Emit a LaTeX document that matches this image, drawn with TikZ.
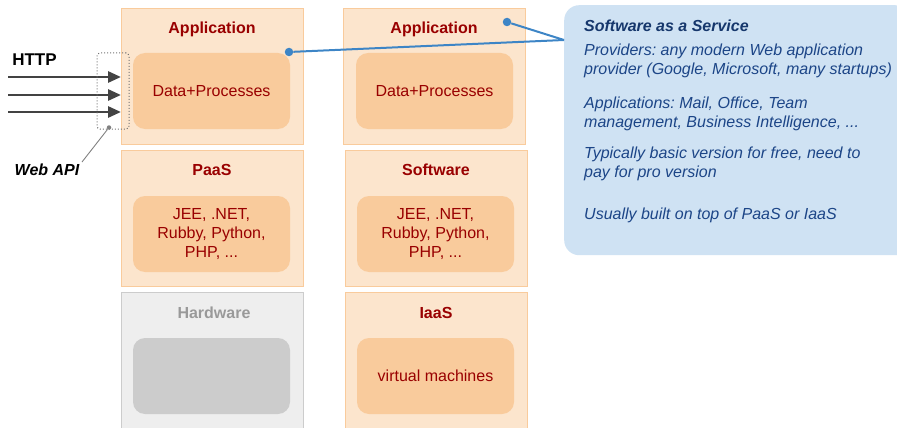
\documentclass[tikz,border=0pt]{standalone}
\usepackage{fontspec}
\setmainfont{Liberation Sans}
\usetikzlibrary{arrows.meta}
\frenchspacing
\definecolor{boxfill}{HTML}{FCE5CD}
\definecolor{boxline}{HTML}{F9CB9C}
\definecolor{innerfill}{HTML}{F9CB9C}
\definecolor{darkred}{HTML}{990000}
\definecolor{hwfill}{HTML}{EEEEEE}
\definecolor{hwline}{HTML}{CCCCCC}
\definecolor{hwtext}{HTML}{999999}
\definecolor{notefill}{HTML}{CFE2F3}
\definecolor{notetext}{HTML}{1C4587}
\definecolor{linkblue}{HTML}{3D85C6}
\definecolor{arrowgray}{HTML}{434343}
\tikzset{
  layerbox/.style={draw=boxline, fill=boxfill, line width=0.8pt, minimum width=182pt, minimum height=136pt, inner sep=0pt},
  hwbox/.style={layerbox, draw=hwline, fill=hwfill, minimum height=138pt},
  innerbox/.style={fill=innerfill, rounded corners=12pt, minimum width=157pt, minimum height=76pt, inner sep=0pt,
    text=darkred, align=center, font=\fontsize{16}{19}\selectfont},
  hwinner/.style={innerbox, fill=hwline},
  boxtitle/.style={anchor=base, text=darkred, font=\fontsize{16}{19}\selectfont\bfseries, inner sep=0pt},
  notetextstyle/.style={anchor=base west, text=notetext, font=\fontsize{16}{19}\selectfont\itshape, inner sep=0pt},
  linkdot/.style={circle, fill=linkblue, minimum size=8.5pt, inner sep=0pt},
  link/.style={draw=linkblue, line width=2pt},
  httparrow/.style={draw=arrowgray, line width=2.8pt, -{Triangle[length=13pt,width=11pt]}},
}
\begin{document}
\begin{tikzpicture}[x=1pt,y=-1pt]
\useasboundingbox (0,0) rectangle (897,428);

% left stack: application on top of a PaaS on top of hardware
\node[layerbox] (app1) at (212,76) {};
\node[layerbox] (paas) at (212,218) {};
\node[hwbox]    (hw)   at (212,361) {};
\node[innerbox] (dp1)  at (211.5,91) {Data+Processes};
\node[innerbox] (lang1) at (211.5,234) {JEE, .NET,\\Rubby, Python,\\PHP, ...};
\node[hwinner]  (hwin) at (211.5,376) {};
\node[boxtitle] (t-app1) at (212,33.5) {Application};
\node[boxtitle] (t-paas) at (212,175.5) {PaaS};
\node[boxtitle, text=hwtext] (t-hw) at (214,318.5) {Hardware};

% right stack: application on top of software on top of an IaaS
\node[layerbox] (app2) at (434,76) {};
\node[layerbox] (sw)   at (436,218) {};
\node[layerbox, minimum height=138pt] (iaas) at (436,361) {};
\node[innerbox] (dp2)  at (434.5,91) {Data+Processes};
\node[innerbox] (lang2) at (435.5,234) {JEE, .NET,\\Rubby, Python,\\PHP, ...};
\node[innerbox] (vm)   at (435.5,376) {virtual machines};
\node[boxtitle] (t-app2) at (434,33.5) {Application};
\node[boxtitle] (t-sw)   at (436,175.5) {Software};
\node[boxtitle] (t-iaas) at (436,318.5) {IaaS};

% SaaS note
\node[fill=notefill, rounded corners=15pt, minimum width=346pt, minimum height=250pt, anchor=north west, inner sep=0pt]
  (note) at (564,5) {};
\node[notetextstyle, font=\fontsize{16}{19}\selectfont\bfseries\itshape, text=notetext!80!black] (n-title) at (584,31.5) {Software as a Service};
\node[notetextstyle] (n1a) at (584,55.5) {Providers: any modern Web application};
\node[notetextstyle] (n1b) at (584,74.5) {provider (Google, Microsoft, many startups)};
\node[notetextstyle] (n2a) at (584,108.5) {Applications: Mail, Office, Team};
\node[notetextstyle] (n2b) at (584,127.5) {management, Business Intelligence, ...};
\node[notetextstyle] (n3a) at (584,158.5) {Typically basic version for free, need to};
\node[notetextstyle] (n3b) at (584,177.5) {pay for pro version};
\node[notetextstyle] (n4)  at (584,219.5) {Usually built on top of PaaS or IaaS};

% links from both applications to the note
\coordinate (notejoin) at (564,40);
\node[linkdot] (d1) at (289,52) {};
\node[linkdot] (d2) at (507,22) {};
\draw[link] (d1) -- (notejoin);
\draw[link] (d2) -- (notejoin);

% incoming HTTP requests
\node[anchor=base, font=\fontsize{17}{20}\selectfont\bfseries, inner sep=0pt] (http) at (34.5,66) {HTTP};
\foreach \i/\y in {1/77,2/95,3/112}{
  \coordinate (src\i) at (8,\y);
  \coordinate (dst\i) at (121,\y);
  \draw[httparrow] (src\i) -- (dst\i);
}

% Web API boundary
\node[draw=gray!90!black, dotted, line width=1pt, rounded corners=3pt, minimum width=32pt, minimum height=76pt, inner sep=0pt]
  (api) at (113,91) {};
\node[circle, fill=gray, minimum size=4.5pt, inner sep=0pt] (apidot) at (109,127.5) {};
\node[font=\fontsize{16}{19}\selectfont\bfseries\itshape, inner sep=1pt] (apilabel) at (47,170) {Web API};
\draw[gray, line width=0.9pt] (apidot) -- (82,162);
\end{tikzpicture}
\end{document}
